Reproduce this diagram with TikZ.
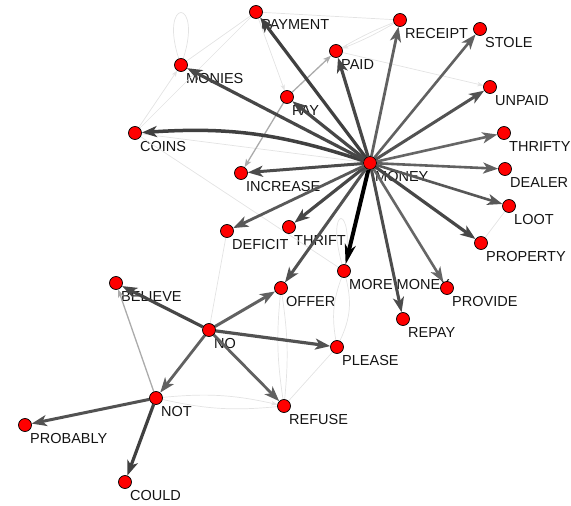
\documentclass[tikz,border=0pt]{standalone}
\usepackage{fontspec}
\setmainfont{Liberation Sans}
\usetikzlibrary{arrows.meta}
\pgfdeclarelayer{bg}
\pgfdeclarelayer{fg}
\pgfsetlayers{bg,main,fg}
\begin{document}
\begin{tikzpicture}[x=1pt,y=-1pt,
  v/.style={circle, fill=red, draw=black, line width=0.7pt, minimum size=13pt, inner sep=0pt},
  lab/.style={anchor=base west, inner sep=0pt, font=\fontsize{14.5}{17}\selectfont, text=black!92},
  ed/.style={-{Stealth[length=15pt,width=11pt,inset=4pt]}},
  thin/.style={line width=1.3pt, draw=black!33, -{Stealth[length=8pt,width=6pt,inset=2pt]}},
  faint/.style={line width=0.7pt, draw=black!11},
  fa/.style={faint, -{Stealth[length=6pt,width=4.5pt,inset=1.5pt]}}
]
\useasboundingbox (0,0) rectangle (571,506);
\begin{pgfonlayer}{fg}
\node[v] (payment) at (256,12) {};
\node[v] (receipt) at (400,20) {};
\node[v] (stole) at (480,29) {};
\node[v] (paid) at (336,51) {};
\node[v] (monies) at (181,65) {};
\node[v] (unpaid) at (490,87) {};
\node[v] (pay) at (287,97) {};
\node[v] (coins) at (135,133) {};
\node[v] (thrifty) at (504,133) {};
\node[v] (money) at (370,163) {};
\node[v] (increase) at (241,173) {};
\node[v] (dealer) at (505,169) {};
\node[v] (loot) at (509,206) {};
\node[v] (deficit) at (227,231) {};
\node[v] (thrift) at (289,227) {};
\node[v] (property) at (481,243) {};
\node[v] (moremoney) at (344,271) {};
\node[v] (offer) at (281,288) {};
\node[v] (provide) at (447,288) {};
\node[v] (believe) at (116,283) {};
\node[v] (no) at (209,330) {};
\node[v] (repay) at (403,319) {};
\node[v] (please) at (337,347) {};
\node[v] (not) at (156,398) {};
\node[v] (refuse) at (284,406) {};
\node[v] (probably) at (25,425) {};
\node[v] (could) at (125,482) {};
\end{pgfonlayer}
\begin{pgfonlayer}{bg}
\foreach \n/\t in {payment/PAYMENT, receipt/RECEIPT, stole/STOLE, paid/PAID, monies/MONIES,
  unpaid/UNPAID, pay/PAY, coins/COINS, thrifty/THRIFTY, money/MONEY, increase/INCREASE,
  dealer/DEALER, loot/LOOT, deficit/DEFICIT, thrift/THRIFT, property/PROPERTY,
  moremoney/MORE MONEY, offer/OFFER, provide/PROVIDE, believe/BELIEVE, no/NO, repay/REPAY,
  please/PLEASE, not/NOT, refuse/REFUSE, probably/PROBABLY, could/COULD}
  \node[lab] (l-\n) at ([shift={(5,18)}]\n.center) {\t};
\end{pgfonlayer}
% faint edges
\draw[faint] (monies.center) .. controls +(-26,-70) and +(26,-70) .. (monies.center);
\draw[faint] (moremoney.center) .. controls +(-22,-70) and +(14,-70) .. (moremoney.center);
\draw[faint] (monies) -- (payment);
\draw[faint] (payment) -- (coins);
\draw[fa] (coins) -- (monies);
\draw[fa] (payment) -- (pay);
\draw[faint] (payment) -- (receipt);
\draw[fa] (receipt) to[bend left=4] (paid);
\draw[faint] (receipt) to[bend right=4] (paid);
\draw[fa] (paid) -- (unpaid);
\draw[faint] (coins) -- (money);
\draw[faint] (coins) -- (moremoney);
\draw[faint] (loot) -- (property);
\draw[faint] (deficit) -- (no);
\draw[faint] (offer) to[bend left=7] (refuse);
\draw[faint] (offer) to[bend right=7] (refuse);
\draw[faint] (moremoney) to[bend left=20] (please);
\draw[faint] (moremoney) to[bend right=15] (please);
\draw[faint] (refuse) -- (please);
\draw[fa] (not) to[bend left=9] (refuse);
\draw[faint] (not) to[bend right=9] (refuse);
% medium gray edges
\draw[thin] (pay) -- (paid);
\draw[thin] (pay) -- (increase);
\draw[thin] (not) -- (believe);
% money edges
\draw[ed, line width=3.2pt, draw=black!75] (money) -- (payment);
\draw[ed, line width=3.2pt, draw=black!72] (money) -- (pay);
\draw[ed, line width=3.2pt, draw=black!72] (money) -- (paid);
\draw[ed, line width=2.8pt, draw=black!62] (money) -- (receipt);
\draw[ed, line width=2.6pt, draw=black!62] (money) -- (stole);
\draw[ed, line width=3pt, draw=black!68] (money) -- (unpaid);
\draw[ed, line width=2.6pt, draw=black!60] (money) -- (thrifty);
\draw[ed, line width=2.6pt, draw=black!62] (money) -- (dealer);
\draw[ed, line width=2.6pt, draw=black!66] (money) -- (loot);
\draw[ed, line width=3.2pt, draw=black!72] (money) -- (property);
\draw[ed, line width=2.6pt, draw=black!60] (money) -- (provide);
\draw[ed, line width=3pt, draw=black!70] (money) -- (repay);
\draw[line width=4pt, draw=black, -{Stealth[length=20pt,width=11pt,inset=6pt]}] (money) -- (moremoney);
\draw[ed, line width=3pt, draw=black!68] (money) -- (offer);
\draw[ed, line width=3.2pt, draw=black!72] (money) -- (thrift);
\draw[ed, line width=2.8pt, draw=black!65] (money) -- (deficit);
\draw[ed, line width=3pt, draw=black!70] (money) -- (increase);
\draw[ed, line width=3.5pt, draw=black!75] (money) to[bend right=11] (coins);
\draw[ed, line width=3.2pt, draw=black!72] (money) -- (monies);
% no / not edges
\draw[ed, line width=3.2pt, draw=black!72] (no) -- (believe);
\draw[ed, line width=3pt, draw=black!62] (no) -- (offer);
\draw[ed, line width=3.2pt, draw=black!68] (no) -- (please);
\draw[ed, line width=2.8pt, draw=black!62] (no) -- (refuse);
\draw[ed, line width=2.8pt, draw=black!62] (no) -- (not);
\draw[ed, line width=3pt, draw=black!68] (not) -- (probably);
\draw[ed, line width=3.2pt, draw=black!75] (not) -- (could);
\end{tikzpicture}
\end{document}
